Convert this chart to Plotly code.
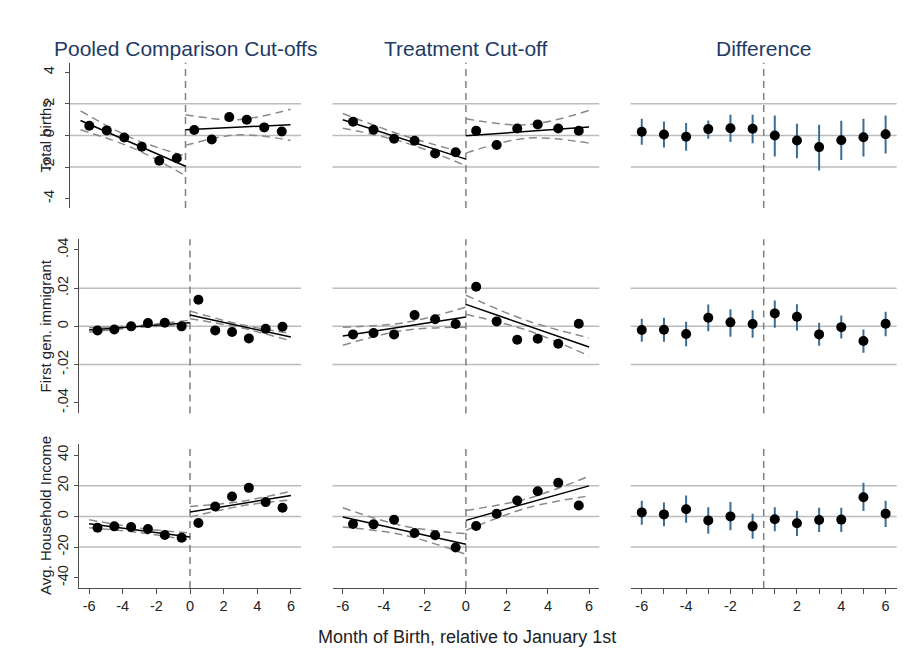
import plotly.graph_objects as go

W, H = 905, 659

# ---------------- data ----------------
bins_left = [-5.5, -4.5, -3.5, -2.5, -1.5, -0.5]
bins_right = [0.5, 1.5, 2.5, 3.5, 4.5, 5.5]
fit_x_left = [-6, 0]
fit_x_right = [0, 6]
ci_x_left = [-6, -3, 0]
ci_x_right = [0, 3, 6]
diff_months = [-6, -5, -4, -3, -2, -1, 1, 2, 3, 4, 5, 6]

col_titles = ["Pooled Comparison Cut-offs", "Treatment Cut-off", "Difference"]
row_titles = ["Total births", "First gen. immigrant", "Avg. Household Income"]
x_title = "Month of Birth, relative to January 1st"

y_tickvals_births = [-4, -2, 0, 2, 4]
y_ticktext_births = ["-4", "-2", "0", "2", "4"]
y_tickvals_imm = [-0.04, -0.02, 0, 0.02, 0.04]
y_ticktext_imm = ["-.04", "-.02", "0", ".02", ".04"]
y_tickvals_inc = [-40, -20, 0, 20, 40]
y_ticktext_inc = ["-40", "-20", "0", "20", "40"]
grid_births = [-2, 0, 2]
grid_imm = [-0.02, 0, 0.02]
grid_inc = [-20, 0, 20]
x_tickvals_rd = [-6, -4, -2, 0, 2, 4, 6]

# Total births - pooled comparison
births_pool_left = [0.61, 0.32, -0.13, -0.72, -1.60, -1.44]
births_pool_right = [0.34, -0.25, 1.16, 0.99, 0.51, 0.25]
births_pool_fit_left = [0.95, -1.95]
births_pool_fit_right = [0.36, 0.68]
births_pool_ciup_left = [1.56, -0.20, -1.30]
births_pool_cilo_left = [0.36, -0.80, -2.55]
births_pool_ciup_right = [1.31, 1.00, 1.66]
births_pool_cilo_right = [-0.63, 0.04, -0.32]
# Total births - treatment
births_tr_left = [0.87, 0.36, -0.21, -0.34, -1.14, -1.06]
births_tr_right = [0.30, -0.61, 0.44, 0.70, 0.44, 0.30]
births_tr_fit_left = [0.99, -1.50]
births_tr_fit_right = [-0.02, 0.53]
births_tr_ciup_left = [1.39, -0.02, -1.12]
births_tr_cilo_left = [0.46, -0.44, -1.92]
births_tr_ciup_right = [1.06, 0.68, 1.58]
births_tr_cilo_right = [-1.12, -0.17, -0.49]
# Total births - difference
births_diff = [0.23, 0.06, -0.08, 0.40, 0.46, 0.42, 0.00, -0.32, -0.74, -0.30, -0.11, 0.08]
births_diff_hi = [1.06, 0.89, 0.78, 0.95, 1.31, 1.31, 1.27, 0.74, 0.68, 0.93, 1.06, 1.27]
births_diff_lo = [-0.59, -0.76, -0.97, -0.21, -0.42, -0.49, -1.33, -1.44, -2.22, -1.56, -1.33, -1.14]

# First gen. immigrant - pooled comparison
imm_pool_left = [-0.0021, -0.0016, 0.0000, 0.0017, 0.0019, 0.0000]
imm_pool_right = [0.0139, -0.0021, -0.0030, -0.0063, -0.0013, -0.0002]
imm_pool_fit_left = [-0.0019, 0.0019]
imm_pool_fit_right = [0.0059, -0.0056]
imm_pool_ciup_left = [-0.0007, 0.0005, 0.0032]
imm_pool_cilo_left = [-0.0031, -0.0005, 0.0006]
imm_pool_ciup_right = [0.0080, 0.0010, -0.0038]
imm_pool_cilo_right = [0.0040, -0.0007, -0.0076]
# First gen. immigrant - treatment
imm_tr_left = [-0.0042, -0.0035, -0.0042, 0.0059, 0.0037, 0.0012]
imm_tr_right = [0.0207, 0.0026, -0.0070, -0.0065, -0.0091, 0.0014]
imm_tr_fit_left = [-0.0051, 0.0049]
imm_tr_fit_right = [0.0115, -0.0108]
imm_tr_ciup_left = [-0.0004, 0.0019, 0.0101]
imm_tr_cilo_left = [-0.0099, -0.0021, -0.0004]
imm_tr_ciup_right = [0.0163, 0.0029, -0.0060]
imm_tr_cilo_right = [0.0063, -0.0021, -0.0155]
# First gen. immigrant - difference
imm_diff = [-0.0019, -0.0018, -0.0040, 0.0045, 0.0021, 0.0012, 0.0068, 0.0050, -0.0042, -0.0004, -0.0077, 0.0014]
imm_diff_hi = [0.0040, 0.0045, 0.0024, 0.0115, 0.0089, 0.0084, 0.0136, 0.0116, 0.0019, 0.0057, -0.0016, 0.0076]
imm_diff_lo = [-0.0080, -0.0080, -0.0104, -0.0025, -0.0054, -0.0060, -0.0007, -0.0021, -0.0101, -0.0063, -0.0138, -0.0052]

# Avg. household income - pooled comparison
inc_pool_left = [-7.4, -6.5, -6.9, -8.2, -12.1, -13.9]
inc_pool_right = [-4.3, 6.5, 13.0, 18.6, 9.3, 5.6]
inc_pool_fit_left = [-4.8, -13.4]
inc_pool_fit_right = [2.8, 13.6]
inc_pool_ciup_left = [-2.2, -7.6, -10.8]
inc_pool_cilo_left = [-7.4, -10.6, -15.6]
inc_pool_ciup_right = [6.5, 9.7, 16.4]
inc_pool_cilo_right = [-0.4, 6.7, 10.8]
# Avg. household income - treatment
inc_tr_left = [-5.0, -5.2, -2.2, -10.8, -12.3, -20.3]
inc_tr_right = [-6.3, 1.7, 10.4, 16.4, 21.9, 7.1]
inc_tr_fit_left = [-0.4, -18.2]
inc_tr_fit_right = [-2.6, 19.9]
inc_tr_ciup_left = [5.6, -6.3, -11.3]
inc_tr_cilo_left = [-6.9, -12.3, -24.7]
inc_tr_ciup_right = [3.9, 11.6, 26.2]
inc_tr_cilo_right = [-9.1, 5.6, 13.4]
# Avg. household income - difference
inc_diff = [2.6, 1.3, 4.7, -2.6, 0.0, -6.5, -1.9, -4.5, -2.4, -2.1, 12.5, 1.8]
inc_diff_hi = [10.2, 9.1, 13.6, 6.0, 9.3, 1.8, 6.0, 3.7, 5.6, 5.6, 21.9, 10.2]
inc_diff_lo = [-5.4, -6.5, -4.1, -11.3, -9.1, -14.5, -9.7, -12.8, -10.2, -10.2, 3.5, -6.9]

# ---------------- assemble panels ----------------
rd_panels = [
    [(births_pool_left, births_pool_right, births_pool_fit_left, births_pool_fit_right,
      births_pool_ciup_left, births_pool_cilo_left, births_pool_ciup_right, births_pool_cilo_right),
     (births_tr_left, births_tr_right, births_tr_fit_left, births_tr_fit_right,
      births_tr_ciup_left, births_tr_cilo_left, births_tr_ciup_right, births_tr_cilo_right)],
    [(imm_pool_left, imm_pool_right, imm_pool_fit_left, imm_pool_fit_right,
      imm_pool_ciup_left, imm_pool_cilo_left, imm_pool_ciup_right, imm_pool_cilo_right),
     (imm_tr_left, imm_tr_right, imm_tr_fit_left, imm_tr_fit_right,
      imm_tr_ciup_left, imm_tr_cilo_left, imm_tr_ciup_right, imm_tr_cilo_right)],
    [(inc_pool_left, inc_pool_right, inc_pool_fit_left, inc_pool_fit_right,
      inc_pool_ciup_left, inc_pool_cilo_left, inc_pool_ciup_right, inc_pool_cilo_right),
     (inc_tr_left, inc_tr_right, inc_tr_fit_left, inc_tr_fit_right,
      inc_tr_ciup_left, inc_tr_cilo_left, inc_tr_ciup_right, inc_tr_cilo_right)],
]
diff_panels = [
    (births_diff, births_diff_hi, births_diff_lo),
    (imm_diff, imm_diff_hi, imm_diff_lo),
    (inc_diff, inc_diff_hi, inc_diff_lo),
]
y_ticks = [(y_tickvals_births, y_ticktext_births), (y_tickvals_imm, y_ticktext_imm),
           (y_tickvals_inc, y_ticktext_inc)]
grids = [grid_births, grid_imm, grid_inc]

diff_pos = [m + 0.5 if m < 0 else m - 0.5 for m in diff_months]
diff_ticktext = [str(m) if m % 2 == 0 else "" for m in diff_months]

# ---------------- layout geometry (pixels) ----------------
FONT = "Arial, 'Liberation Sans', sans-serif"
x_dom_px = [
    [(70, 301), (332.5, 599.3), (630.7, 896.7)],
    [(79, 301), (332.5, 599.3), (630.7, 896.7)],
    [(79, 301), (332.5, 599.3), (630.7, 896.7)],
]
y_dom_px = [(61, 206.7), (238, 412.7), (443.3, 587.7)]
x_ranges = [[-6.6, 6.6], [-6.5, 6.5], [-6, 6]]
y_ranges = [[-4.6, 4.6], [-0.0456, 0.0456], [-46.6, 47.2]]
y_label_standoff = [5, 0, 0]

GRID_COLOR = "#bcbcbc"
VLINE_COLOR = "#7f7f7f"
CI_COLOR = "#8a8a8a"
AXIS_COLOR = "#4d4d4d"
SPIKE_COLOR = "#3b6d94"
TITLE_COLOR = "#1e3a66"
TEXT_COLOR = "#222222"

fig = go.Figure()
layout = {}
shapes = []

for r in range(3):
    for c in range(3):
        k = r * 3 + c + 1
        xs = "x" if k == 1 else f"x{k}"
        ys = "y" if k == 1 else f"y{k}"
        xa = "xaxis" if k == 1 else f"xaxis{k}"
        ya = "yaxis" if k == 1 else f"yaxis{k}"
        x0, x1 = x_dom_px[r][c]
        y0, y1 = y_dom_px[r]

        xaxis = dict(domain=[x0 / W, x1 / W], range=x_ranges[c], anchor=ys,
                     showgrid=False, zeroline=False, fixedrange=True)
        if r == 2:
            xaxis.update(showline=True, linecolor=AXIS_COLOR, linewidth=1.3,
                         ticks="outside", ticklen=5, tickwidth=1.3, tickcolor=AXIS_COLOR,
                         tickfont=dict(family=FONT, size=14.5, color=TEXT_COLOR))
            if c < 2:
                xaxis.update(tickvals=x_tickvals_rd, ticktext=[str(v) for v in x_tickvals_rd])
            else:
                xaxis.update(tickvals=diff_pos, ticktext=diff_ticktext)
        else:
            xaxis.update(visible=False)
        yaxis = dict(domain=[1 - y1 / H, 1 - y0 / H], range=y_ranges[r], anchor=xs,
                     showgrid=False, zeroline=False, fixedrange=True)
        if c == 0:
            yaxis.update(showline=True, linecolor=AXIS_COLOR, linewidth=1.3,
                         ticks="outside", ticklen=4, tickwidth=1.3, tickcolor=AXIS_COLOR,
                         tickvals=y_ticks[r][0], ticktext=y_ticks[r][1], tickangle=-90,
                         ticklabelstandoff=y_label_standoff[r],
                         tickfont=dict(family=FONT, size=14.5, color=TEXT_COLOR))
        else:
            yaxis.update(visible=False)
        layout[xa] = xaxis
        layout[ya] = yaxis

        # gridlines
        for gv in grids[r]:
            shapes.append(dict(type="line", xref=f"{xs} domain", yref=ys, x0=0, x1=1,
                               y0=gv, y1=gv, layer="below",
                               line=dict(color=GRID_COLOR, width=1.5)))
        # cutoff line
        shapes.append(dict(type="line", xref=xs, yref=f"{ys} domain", x0=0, x1=0,
                           y0=0, y1=1, layer="below",
                           line=dict(color=VLINE_COLOR, width=1.5, dash="7px,5px")))

        if c < 2:
            (pl, pr, fl, fr, cul, cll, cur, clr) = rd_panels[r][c]
            for cx, cy in [(ci_x_left, cul), (ci_x_left, cll), (ci_x_right, cur), (ci_x_right, clr)]:
                fig.add_trace(go.Scatter(x=cx, y=cy, mode="lines", xaxis=xs, yaxis=ys,
                                         line=dict(color=CI_COLOR, width=1.5, dash="8px,5px",
                                                   shape="spline", smoothing=1.0),
                                         hoverinfo="skip", showlegend=False))
            for fx, fy in [(fit_x_left, fl), (fit_x_right, fr)]:
                fig.add_trace(go.Scatter(x=fx, y=fy, mode="lines", xaxis=xs, yaxis=ys,
                                         line=dict(color="black", width=1.5),
                                         hoverinfo="skip", showlegend=False))
            fig.add_trace(go.Scatter(x=bins_left + bins_right, y=pl + pr, mode="markers",
                                     xaxis=xs, yaxis=ys,
                                     marker=dict(color="black", size=10),
                                     showlegend=False))
        else:
            dv, dh, dl = diff_panels[r]
            fig.add_trace(go.Scatter(
                x=diff_pos, y=dv, mode="markers", xaxis=xs, yaxis=ys,
                marker=dict(color="black", size=10),
                error_y=dict(type="data", symmetric=False,
                             array=[h - v for h, v in zip(dh, dv)],
                             arrayminus=[v - l for v, l in zip(dv, dl)],
                             color=SPIKE_COLOR, thickness=2, width=0),
                showlegend=False))

annotations = []
title_cx = [185.5, 466, 763.7]
for c in range(3):
    annotations.append(dict(text=col_titles[c], x=title_cx[c] / W, y=1 - 46.7 / H,
                            xref="paper", yref="paper", showarrow=False,
                            xanchor="center", yanchor="middle",
                            font=dict(family=FONT, size=21, color=TITLE_COLOR)))
row_cy = [134.5, 325, 515]
for r in range(3):
    annotations.append(dict(text=row_titles[r], x=45.5 / W, y=1 - row_cy[r] / H,
                            xref="paper", yref="paper", showarrow=False, textangle=-90,
                            xanchor="center", yanchor="middle",
                            font=dict(family=FONT, size=15, color=TEXT_COLOR)))
annotations.append(dict(text=x_title, x=467.5 / W, y=1 - 636.7 / H,
                        xref="paper", yref="paper", showarrow=False,
                        xanchor="center", yanchor="middle",
                        font=dict(family=FONT, size=18, color=TEXT_COLOR)))

fig.update_layout(
    width=W, height=H, margin=dict(l=0, r=0, t=0, b=0),
    paper_bgcolor="white", plot_bgcolor="rgba(0,0,0,0)",
    shapes=shapes, annotations=annotations, showlegend=False,
    **layout,
)

fig.write_html("out.html")
